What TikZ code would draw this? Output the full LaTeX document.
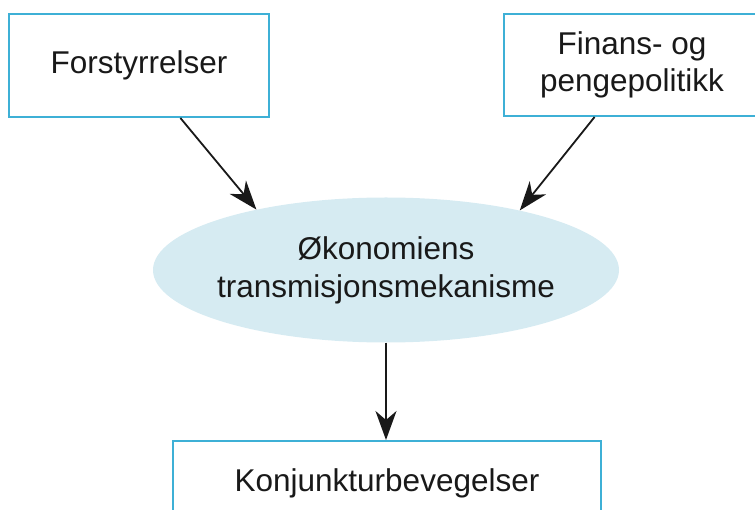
\documentclass[tikz,border=0pt]{standalone}
\usepackage{fontspec}
\setmainfont{Liberation Sans}
\usetikzlibrary{arrows.meta,calc,shapes.geometric}
\definecolor{boxline}{RGB}{62,176,214}
\definecolor{ellfill}{RGB}{214,235,242}
\definecolor{txt}{RGB}{25,25,25}
\tikzset{
  boxnode/.style={draw=boxline,line width=2pt,fill=white,inner sep=0pt,align=center,
    font=\fontsize{31.5}{37}\selectfont,text=txt},
  ellnode/.style={ellipse,fill=ellfill,draw=none,inner xsep=-10pt,inner ysep=0pt,align=center,
    minimum width=466pt,minimum height=145pt,font=\fontsize{31.5}{38}\selectfont,text=txt},
  conn/.style={draw=black!90,line width=1.8pt,-{Stealth[length=29pt,width=21pt,inset=9pt]}}
}
\begin{document}
\begin{tikzpicture}[x=1pt,y=-1pt]
\useasboundingbox (0,0) rectangle (755,510);
\clip (0,0) rectangle (755,510);
\node[boxnode,minimum width=260pt,minimum height=103pt] (b1) at (139,65.5) {Forstyrrelser};
\node[boxnode,minimum width=256pt,minimum height=102pt] (b2) at (632,65) {Finans- og\\pengepolitikk};
\node[ellnode] (ell) at (386,270) {Økonomiens\\transmisjonsmekanisme};
\node[boxnode,minimum width=428pt,minimum height=84pt] (b3) at (387,483) {Konjunkturbevegelser};
\coordinate (s1) at ($(b1.south west)!0.658!(b1.south east)$);
\coordinate (s2) at ($(b2.south west)!0.355!(b2.south east)$);
\draw[conn] (s1) -- (ell.155.7);
\draw[conn] (s2) -- (ell.24.4);
\draw[conn] (ell.south) -- (ell.south |- b3.north);
\end{tikzpicture}
\end{document}
